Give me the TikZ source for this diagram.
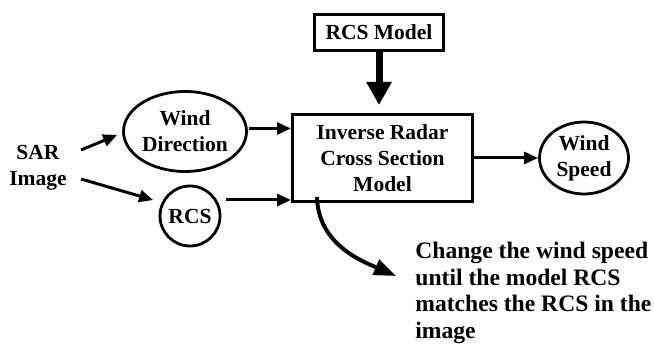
\documentclass[tikz,border=0pt]{standalone}
\usepackage{fontspec}
\setmainfont{Liberation Serif}
\usetikzlibrary{arrows.meta,shapes.geometric}

\begin{document}
\begin{tikzpicture}[x=0.5pt,y=-0.5pt,
  every node/.style={font=\fontsize{10.75}{13}\selectfont\bfseries, inner sep=0pt, align=center},
  procbox/.style={draw=black, line width=1.5pt, rectangle},
  oval/.style={draw=black, line width=1.4pt, ellipse},
  flow/.style={black, line width=1.5pt, -{Triangle[length=7pt,width=6pt]}},
  bigflow/.style={black, line width=3.5pt, -{Triangle[length=11.5pt,width=12pt]}, shorten >=4pt},
  loopflow/.style={black, line width=2pt, -{Triangle[length=11pt,width=8pt]}}]
\useasboundingbox (0,0) rectangle (654,346);
\node (sar) at (38,168) {SAR\\Image};
\node[oval, minimum width=61.5pt, minimum height=40pt] (wdir) at (185,131.5) {Wind\\Direction};
\node[oval, circle, minimum size=30pt] (rcs) at (190,216) {RCS};
\node[procbox, minimum width=64.5pt, minimum height=18pt] (model) at (379,32.5) {RCS Model};
\node[procbox, minimum width=90pt, minimum height=43.5pt] (inv) at (382.5,158) {Inverse Radar\\Cross Section\\Model};
\node[oval, minimum width=44.5pt, minimum height=36pt] (ws) at (584,158) {Wind\\Speed};
\node[anchor=north west, align=left, font=\fontsize{11.8}{13.25}\selectfont\bfseries] (note) at (415,242)
  {Change the wind speed\\until the model RCS\\matches the RCS in the\\image};
\coordinate (wdout) at ([shift={(1,-3)}]wdir.east);
\coordinate (rcsout) at ([shift={(5,-16)}]rcs.east);
\coordinate (loopin) at ([shift={(26,-6)}]inv.south west);
\coordinate (loopend) at ([shift={(-19,34)}]note.north west);
\draw[flow] ([shift={(14,-18)}]sar.east) -- ([shift={(-5,3.5)}]wdir.west);
\draw[flow] ([shift={(14,11)}]sar.east) -- ([shift={(-5.5,-16)}]rcs.west);
\draw[flow] (wdout) -- (wdout -| inv.west);
\draw[flow] (rcsout) -- (rcsout -| inv.west);
\draw[flow] (inv) -- (ws);
\draw[bigflow] (model.south) -- (model.south |- inv.north);
\draw[loopflow] (loopin) .. controls +(1,48) and +(-32,-14) .. (loopend);
\end{tikzpicture}
\end{document}
